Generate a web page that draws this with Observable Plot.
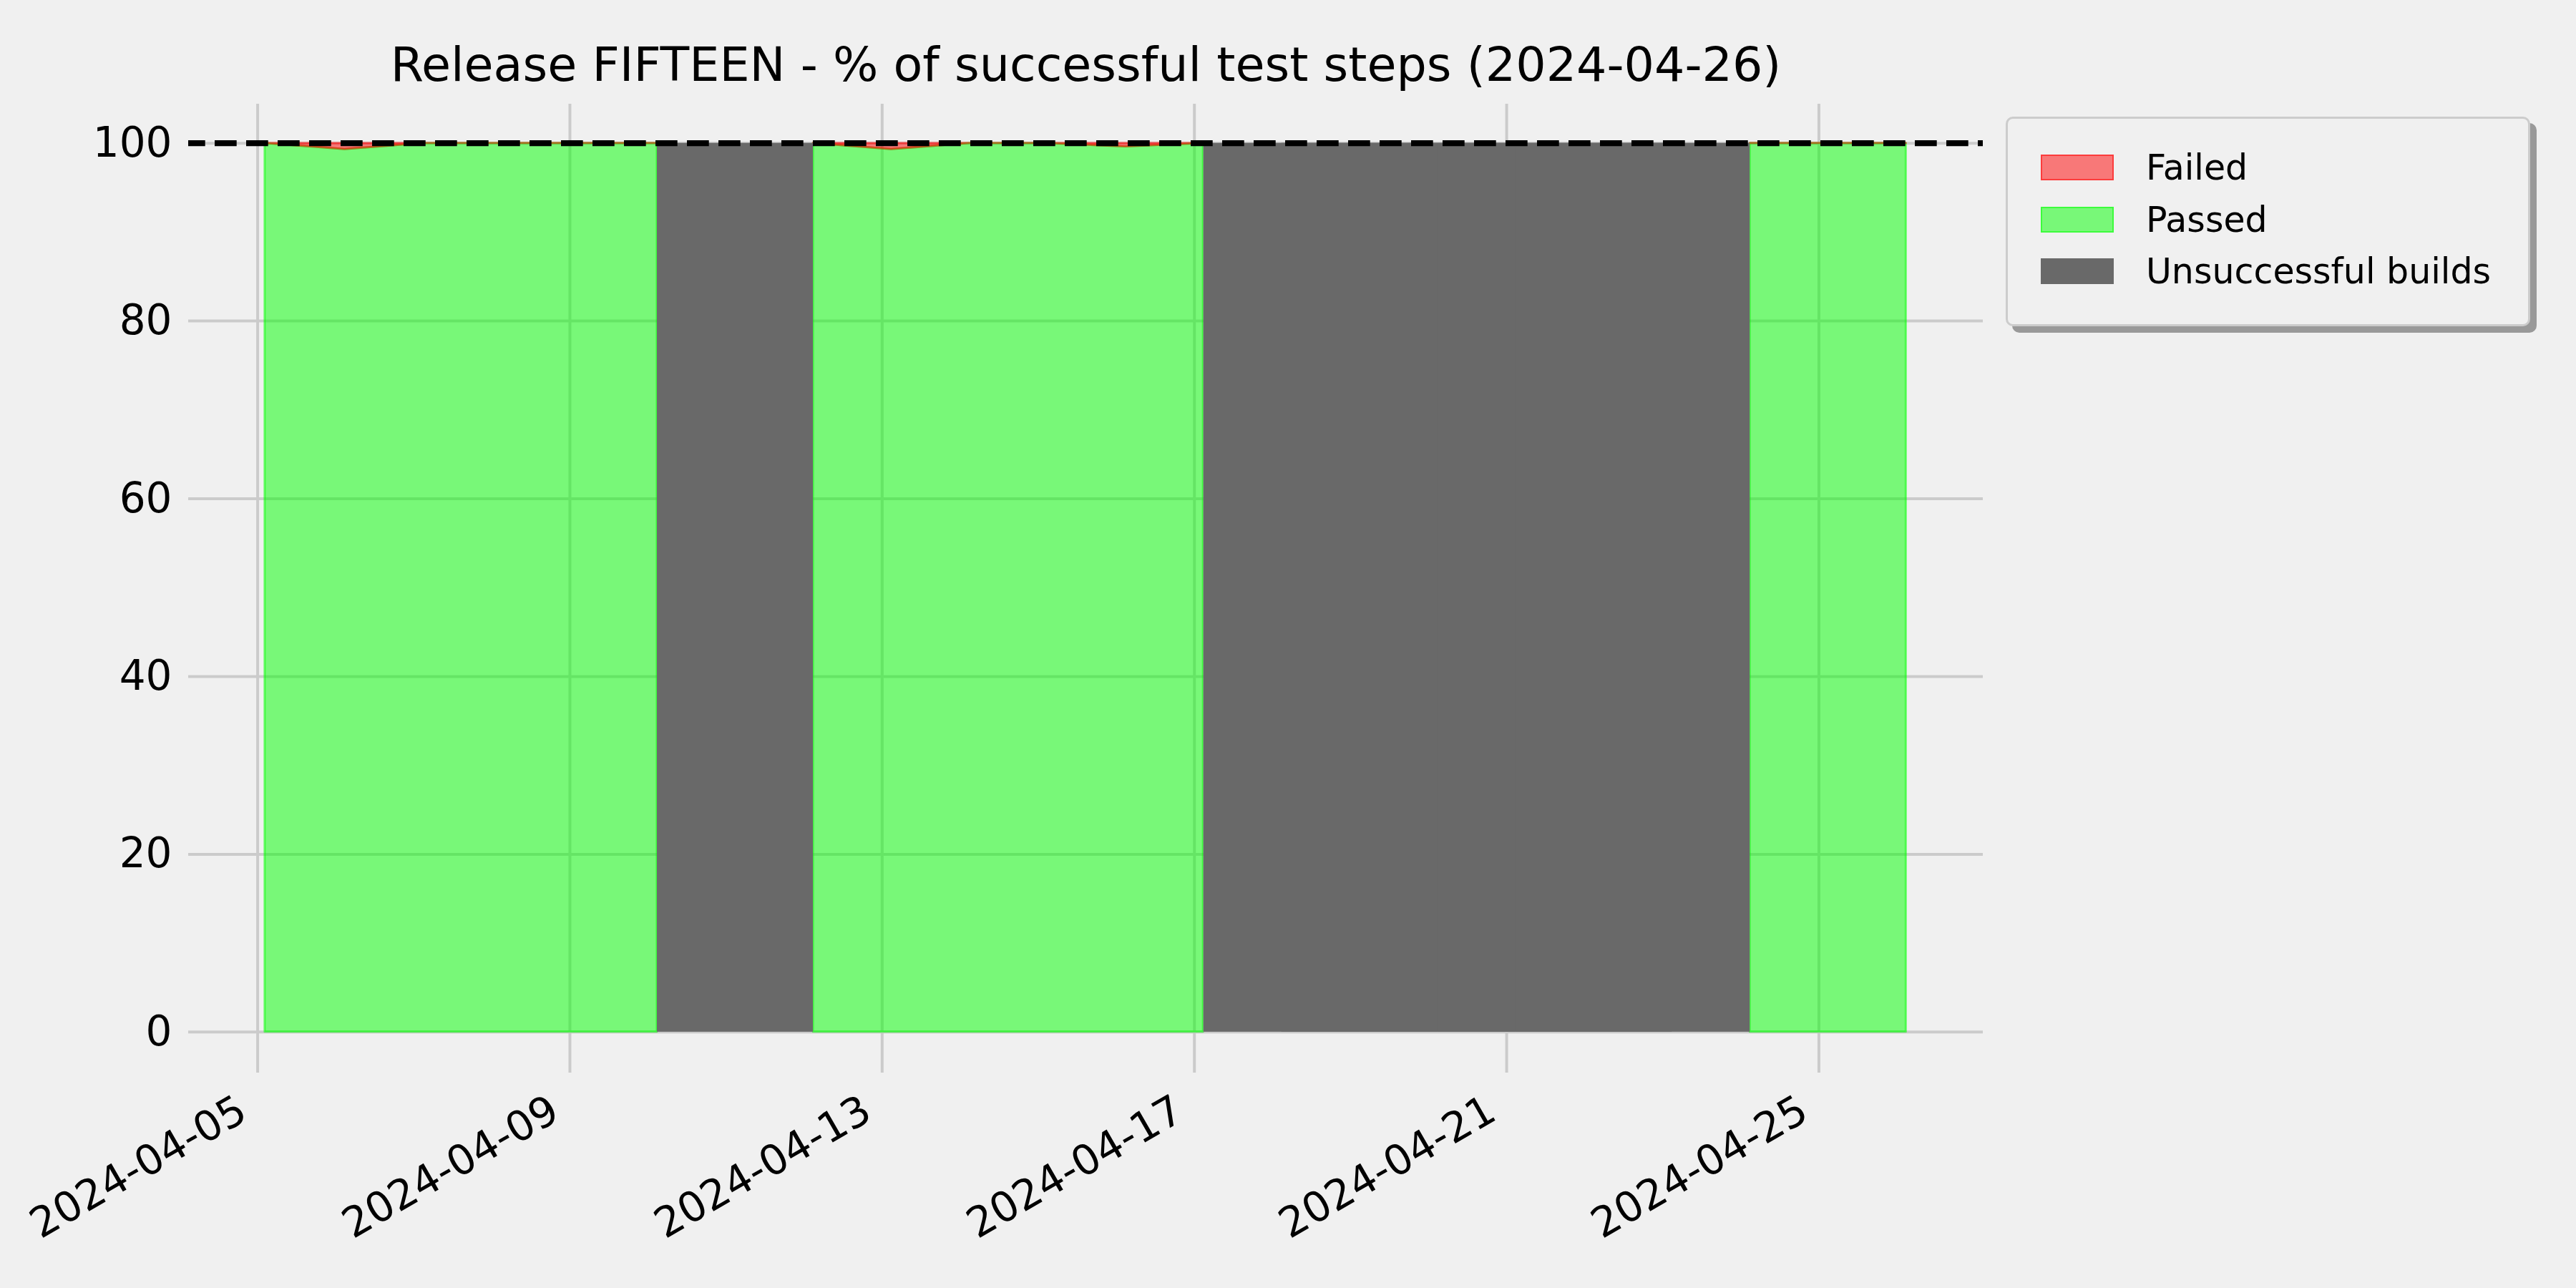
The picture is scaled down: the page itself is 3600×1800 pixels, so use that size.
<!DOCTYPE html>
<html>
<head>
<meta charset="utf-8">
<script src="https://cdn.jsdelivr.net/npm/d3@7"></script>
<script src="https://cdn.jsdelivr.net/npm/@observablehq/plot@0.6"></script>
<style>
  html, body { margin: 0; padding: 0; background: #f0f0f0; }
  #wrap { position: relative; width: 3600px; height: 1800px; background: #f0f0f0; font-family: "DejaVu Sans", sans-serif; }
  #legend { position: absolute; left: 2803px; top: 163px; width: 727px; height: 287px;
            background: #f0f0f0; border: 3px solid #cccccc; border-radius: 10px;
            box-shadow: 9px 9px 0 #999999; }
  .item { position: absolute; left: 46px; height: 40px; }
  .sw { position: absolute; left: 0; top: 0; width: 98px; height: 32px; box-sizing: content-box; }
  .lab { position: absolute; left: 147px; top: -16px; font-size: 49px; line-height: 70px; white-space: nowrap; color: #000; }
</style>
</head>
<body>
<div id="wrap"></div>
<script>
// ---- data ----
const titleText = "Release FIFTEEN - % of successful test steps (2024-04-26)";
const buildDates = [
  "2024-04-05T02:15Z","2024-04-06T02:50Z","2024-04-07T02:50Z","2024-04-08T02:50Z",
  "2024-04-09T02:50Z","2024-04-10T02:50Z","2024-04-11T02:50Z","2024-04-12T02:50Z",
  "2024-04-13T02:50Z","2024-04-14T02:50Z","2024-04-15T02:50Z","2024-04-16T02:50Z",
  "2024-04-17T02:45Z","2024-04-18T02:50Z","2024-04-19T02:50Z","2024-04-20T02:50Z",
  "2024-04-21T02:50Z","2024-04-22T02:50Z","2024-04-23T02:50Z","2024-04-24T02:50Z",
  "2024-04-25T02:50Z","2024-04-26T02:50Z"
];
const passedPct = [100, 99.3, 100, 100, 100, 100, null, 100, 99.3, 100, 100, 99.6, 100,
                   null, null, null, null, null, null, 100, 100, 100];
const failedPct = [0, 0.7, 0, 0, 0, 0, null, 0, 0.7, 0, 0, 0.4, 0,
                   null, null, null, null, null, null, 0, 0, 0];
const unsuccessfulPct = [0, 0, 0, 0, 0, 0, 100, 0, 0, 0, 0, 0, 0,
                         100, 100, 100, 100, 100, 100, 0, 0, 0];
const xTickLabels = ["2024-04-05","2024-04-09","2024-04-13","2024-04-17","2024-04-21","2024-04-25"];
const yTicks = [0, 20, 40, 60, 80, 100];
const targetPct = [100];
const seriesNames = ["Failed", "Passed", "Unsuccessful builds"];

// ---- build table ----
const rows = buildDates.map((d, i) => ({
  date: new Date(d),
  passed: passedPct[i],
  failed: failedPct[i],
  unsuccessful: unsuccessfulPct[i]
}));
const badRows = rows.filter(r => r.unsuccessful > 0);
const tickDates = xTickLabels.map(s => new Date(s + "T00:00Z"));

const FONT = "DejaVu Sans";

const chart = Plot.plot({
  width: 3600,
  height: 1800,
  marginLeft: 263,
  marginRight: 829,
  marginTop: 145,
  marginBottom: 301,
  style: { background: "#f0f0f0", fontFamily: FONT, color: "#000", overflow: "visible" },
  x: { type: "utc", domain: [new Date("2024-04-04T02:45Z"), new Date("2024-04-27T02:30Z")], axis: null },
  y: { domain: [-4.6, 104.4], axis: null },
  marks: [
    Plot.gridY(yTicks, { stroke: "#cbcbcb", strokeOpacity: 1, strokeWidth: 4 }),
    Plot.gridX(tickDates, { stroke: "#cbcbcb", strokeOpacity: 1, strokeWidth: 4 }),
    Plot.axisY(yTicks, { tickSize: 0, tickPadding: 23, fontSize: 58, fill: "#000", fontFamily: FONT }),
    Plot.text(tickDates, {
      x: d => d, frameAnchor: "bottom", dy: 28, dx: -32, rotate: -30,
      textAnchor: "end", lineAnchor: "top", text: d => d3.utcFormat("%Y-%m-%d")(d),
      fontSize: 58, fill: "#000", fontFamily: FONT
    }),
    // Passed (bottom of the stack)
    Plot.areaY(rows, {
      x: "date", y1: () => 0, y2: d => d.passed,
      fill: "lime", fillOpacity: 0.5, stroke: "lime", strokeOpacity: 0.5, strokeWidth: 3
    }),
    // Failed (stacked on top of Passed)
    Plot.areaY(rows, {
      x: "date", y1: d => d.passed, y2: d => d.passed == null ? null : d.passed + d.failed,
      fill: "red", fillOpacity: 0.5, stroke: "red", strokeOpacity: 0.5, strokeWidth: 3
    }),
    // Unsuccessful builds
    Plot.rect(badRows, {
      x1: d => d3.utcDay.offset(d.date, -1), x2: d => d3.utcDay.offset(d.date, 1),
      y1: () => 0, y2: d => d.unsuccessful, fill: "#696969"
    }),
    Plot.ruleY(targetPct, { stroke: "#000", strokeWidth: 8.3, strokeDasharray: "30.7 13.3", strokeDashoffset: 7 }),
    Plot.text([titleText], {
      frameAnchor: "top", dy: -80, lineAnchor: "top", fontSize: 66.7, fill: "#000", fontFamily: FONT
    })
  ]
});

const wrap = document.getElementById("wrap");
wrap.appendChild(chart);

// ---- legend ----
const legendStyles = [
  { bg: "rgba(255,0,0,0.5)", border: "2px solid rgba(255,0,0,0.5)" },
  { bg: "rgba(0,255,0,0.5)", border: "2px solid rgba(0,255,0,0.5)" },
  { bg: "#696969", border: "2px solid #696969" }
];
const legend = document.createElement("div");
legend.id = "legend";
seriesNames.forEach((name, i) => {
  const item = document.createElement("div");
  item.className = "item";
  item.style.top = (50 + i * 72.5) + "px";
  const sw = document.createElement("div");
  sw.className = "sw";
  sw.style.background = legendStyles[i].bg;
  sw.style.border = legendStyles[i].border;
  const lab = document.createElement("div");
  lab.className = "lab";
  lab.textContent = name;
  item.appendChild(sw);
  item.appendChild(lab);
  legend.appendChild(item);
});
wrap.appendChild(legend);
</script>
</body>
</html>
